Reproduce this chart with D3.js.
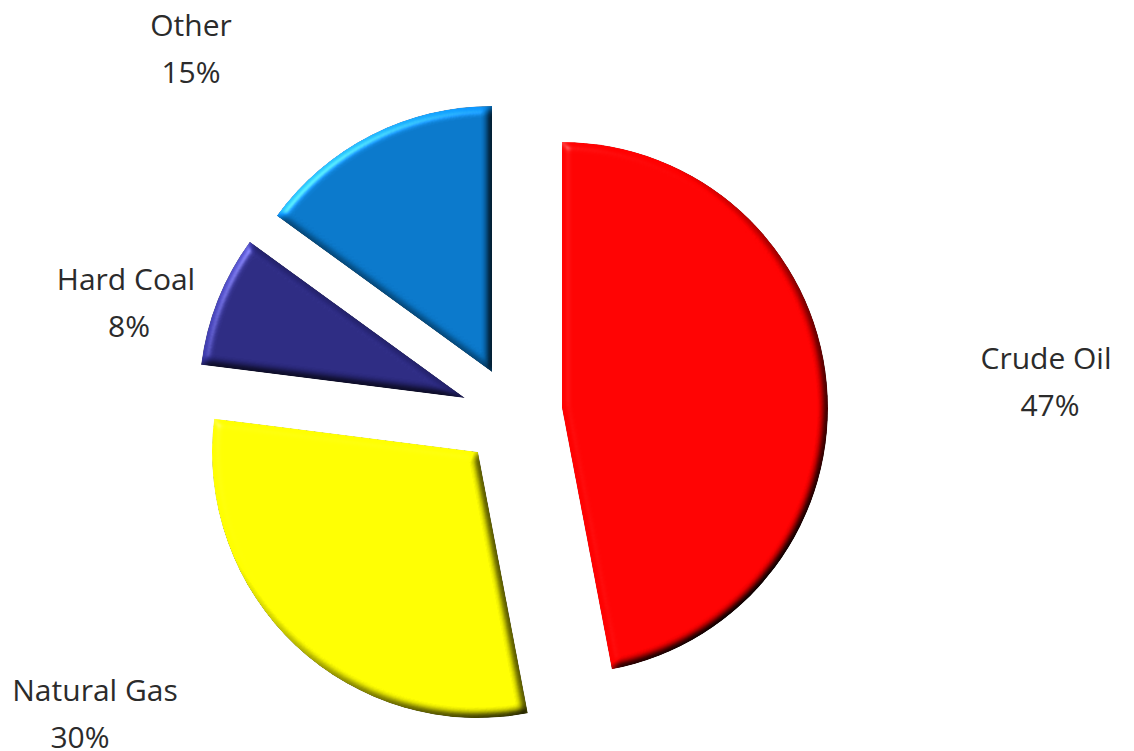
<!DOCTYPE html>
<html>
<head>
<meta charset="utf-8">
<script src="https://cdn.jsdelivr.net/npm/d3@7"></script>
<style>
  html, body { margin: 0; padding: 0; background: #ffffff; }
  svg { display: block; }
  .label { font-family: "Open Sans", Lato, sans-serif; font-size: 30px; fill: #2b2b2b; }
</style>
</head>
<body>
<svg id="chart" width="1134" height="751"></svg>
<script>
// Energy mix shares (%), clockwise from 12 o'clock
const categories = ["Crude Oil", "Natural Gas", "Hard Coal", "Other"];
const shares = [47, 30, 8, 15];
const sliceColors = ["#ff0000", "#ffff00", "#2b2980", "#0876c8"];

// Layout: pie centre, radius, per-slice explode offset and label anchors
const width = 1134, height = 751;
const center = [512, 405];
const radius = 266;
const explode = {
  "Crude Oil":   [50, 3],
  "Natural Gas": [-34, 47],
  "Hard Coal":   [-47, -7],
  "Other":       [-20, -33]
};
// [name centre x, name baseline y, value centre x]
const labelAnchor = {
  "Crude Oil":   [1046, 369, 1050],
  "Natural Gas": [95, 701, 80],
  "Hard Coal":   [126, 290, 129],
  "Other":       [191, 36, 191]
};
const lineGap = 47;

const svg = d3.select("#chart");

// Bevel look: blurred alpha used as a height map, lit from the top-left
const defs = svg.append("defs");
const f = defs.append("filter")
  .attr("id", "bevel")
  .attr("x", "-5%").attr("y", "-5%").attr("width", "110%").attr("height", "110%")
  .attr("color-interpolation-filters", "sRGB");
f.append("feGaussianBlur").attr("in", "SourceAlpha").attr("stdDeviation", 4).attr("result", "blur");
f.append("feDiffuseLighting")
  .attr("in", "blur").attr("surfaceScale", 5).attr("diffuseConstant", 1)
  .attr("lighting-color", "#ffffff").attr("result", "diff")
  .append("feDistantLight").attr("azimuth", 225).attr("elevation", 45);
f.append("feComposite")
  .attr("in", "SourceGraphic").attr("in2", "diff").attr("operator", "arithmetic")
  .attr("k1", 1.414).attr("k2", 0).attr("k3", 0).attr("k4", 0).attr("result", "shade");
f.append("feSpecularLighting")
  .attr("in", "blur").attr("surfaceScale", 5).attr("specularConstant", 0.3)
  .attr("specularExponent", 25).attr("lighting-color", "#ffffff").attr("result", "spec")
  .append("feDistantLight").attr("azimuth", 225).attr("elevation", 35);
f.append("feComposite")
  .attr("in", "shade").attr("in2", "spec").attr("operator", "arithmetic")
  .attr("k1", 0).attr("k2", 1).attr("k3", 1).attr("k4", 0).attr("result", "lit");
f.append("feComposite").attr("in", "lit").attr("in2", "SourceAlpha").attr("operator", "in");

const data = categories.map((c, i) => ({ name: c, value: shares[i], color: sliceColors[i] }));

const pie = d3.pie().sort(null).value(d => d.value).startAngle(0).endAngle(2 * Math.PI);
const arc = d3.arc().innerRadius(0).outerRadius(radius);

const g = svg.append("g").attr("transform", `translate(${center[0]},${center[1]})`);

g.selectAll("path.slice")
  .data(pie(data))
  .join("path")
  .attr("class", "slice")
  .attr("d", arc)
  .attr("fill", d => d.data.color)
  .attr("transform", d => `translate(${explode[d.data.name][0]},${explode[d.data.name][1]})`)
  .attr("filter", "url(#bevel)");

// Data labels: category name over percentage
const labels = svg.selectAll("text.label")
  .data(pie(data))
  .join("text")
  .attr("class", "label")
  .attr("text-anchor", "middle")
  .attr("x", d => labelAnchor[d.data.name][0])
  .attr("y", d => labelAnchor[d.data.name][1]);
labels.append("tspan")
  .attr("x", d => labelAnchor[d.data.name][0])
  .text(d => d.data.name);
labels.append("tspan")
  .attr("x", d => labelAnchor[d.data.name][2])
  .attr("dy", lineGap)
  .text(d => `${d.data.value}%`);
</script>
</body>
</html>
